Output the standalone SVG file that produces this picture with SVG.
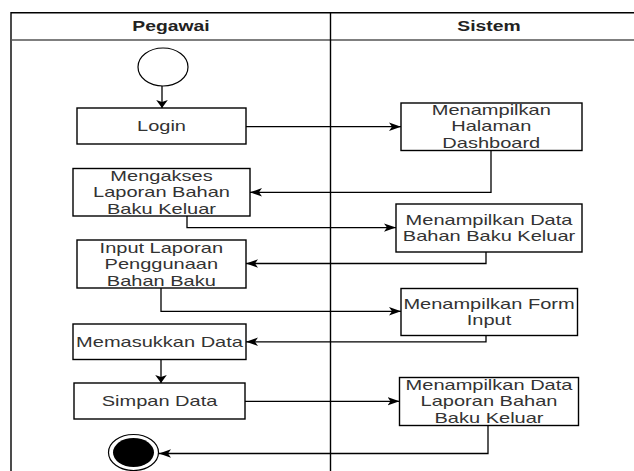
<svg xmlns="http://www.w3.org/2000/svg" width="634" height="471" viewBox="0 0 634 471">
<style>
.frame{fill:none;stroke:#000;stroke-width:1.4}
.box{fill:#fff;stroke:#000;stroke-width:1.4}
.lbl{font-family:"Liberation Sans",Arial,sans-serif;font-size:14.5px;fill:#333;text-anchor:middle}
.hdr{font-family:"Liberation Sans",Arial,sans-serif;font-size:14px;font-weight:bold;fill:#222;text-anchor:middle}
.edge{fill:none;stroke:#000;stroke-width:1.3}
.eh{marker-end:url(#ah)}
.ev{marker-end:url(#av)}
</style>
<defs>
<marker id="ah" markerUnits="userSpaceOnUse" viewBox="0 -5 12 10" refX="12" refY="0" markerWidth="12" markerHeight="10" orient="auto">
<path d="M0,-4.2 L12,0 L0,4.2 L3,0 Z" fill="#000"/>
</marker>
<marker id="av" markerUnits="userSpaceOnUse" viewBox="0 -6 8 12" refX="8" refY="0" markerWidth="8" markerHeight="12" orient="auto">
<path d="M0,-5.8 L8,0 L0,5.8 L2,0 Z" fill="#000"/>
</marker>
</defs>
<rect width="634" height="471" fill="#fff"/>
<g id="pool">
<path class="frame" d="M11,480 V12.7 H660"/>
<line x1="11" y1="40" x2="660" y2="40" stroke="#555" stroke-width="1.7"/>
<line x1="330.5" y1="12.7" x2="330.5" y2="480" stroke="#000" stroke-width="1.4"/>
<text class="hdr" transform="translate(171,30.5) scale(1.38,1)">Pegawai</text>
<text class="hdr" transform="translate(489,30.5) scale(1.38,1)">Sistem</text>
</g>
<g id="connectors">
<path class="edge ev" d="M162,86 V108"/>
<path class="edge eh" d="M246,126.7 H401"/>
<path class="edge eh" d="M491,150.5 V192.3 H250"/>
<path class="edge eh" d="M187,216 V227.6 H396"/>
<path class="edge eh" d="M486,252 V263.5 H246"/>
<path class="edge eh" d="M161,288 V311.3 H401"/>
<path class="edge eh" d="M486,335.5 V341.8 H246"/>
<path class="edge ev" d="M161,359.5 V383"/>
<path class="edge eh" d="M245,401.3 H399.5"/>
<path class="edge eh" d="M488,425.5 V453.5 H159"/>
</g>
<g id="start">
<ellipse cx="163" cy="67" rx="25" ry="19" fill="#fff" stroke="#000" stroke-width="1.2"/>
</g>
<g id="login">
<rect class="box" x="77" y="108" width="169" height="36"/>
<text class="lbl" transform="translate(161.5,131) scale(1.38,1)">Login</text>
</g>
<g id="dashboard">
<rect class="box" x="401" y="103" width="181" height="47.5"/>
<text class="lbl" transform="translate(491.3,0) scale(1.38,1)"><tspan x="0" y="115">Menampilkan</tspan><tspan x="0" y="131.5">Halaman</tspan><tspan x="0" y="148">Dashboard</tspan></text>
</g>
<g id="mengakses">
<rect class="box" x="73" y="168.5" width="177" height="47.5"/>
<text class="lbl" transform="translate(161.5,0) scale(1.38,1)"><tspan x="0" y="181">Mengakses</tspan><tspan x="0" y="197.5">Laporan Bahan</tspan><tspan x="0" y="214">Baku Keluar</tspan></text>
</g>
<g id="databahan">
<rect class="box" x="396" y="204" width="186" height="48"/>
<text class="lbl" transform="translate(489,0) scale(1.38,1)"><tspan x="0" y="225">Menampilkan Data</tspan><tspan x="0" y="241.5">Bahan Baku Keluar</tspan></text>
</g>
<g id="input">
<rect class="box" x="77" y="240" width="169" height="48"/>
<text class="lbl" transform="translate(161.3,0) scale(1.38,1)"><tspan x="0" y="252.7">Input Laporan</tspan><tspan x="0" y="269.2">Penggunaan</tspan><tspan x="0" y="285.7">Bahan Baku</tspan></text>
</g>
<g id="form">
<rect class="box" x="401" y="288.5" width="176.5" height="47"/>
<text class="lbl" transform="translate(489,0) scale(1.38,1)"><tspan x="0" y="309">Menampilkan Form</tspan><tspan x="0" y="325.5">Input</tspan></text>
</g>
<g id="memasukkan">
<rect class="box" x="73" y="324" width="173" height="35.5"/>
<text class="lbl" transform="translate(159.5,347) scale(1.38,1)">Memasukkan Data</text>
</g>
<g id="simpan">
<rect class="box" x="74" y="383" width="171" height="36"/>
<text class="lbl" transform="translate(159.5,406) scale(1.38,1)">Simpan Data</text>
</g>
<g id="laporan">
<rect class="box" x="399.5" y="377.5" width="179" height="48"/>
<text class="lbl" transform="translate(489,0) scale(1.38,1)"><tspan x="0" y="390">Menampilkan Data</tspan><tspan x="0" y="406.5">Laporan Bahan</tspan><tspan x="0" y="423">Baku Keluar</tspan></text>
</g>
<g id="end">
<ellipse cx="133.5" cy="452.5" rx="25" ry="18" fill="#fff" stroke="#000" stroke-width="1.2"/>
<ellipse cx="133.5" cy="452.5" rx="20.5" ry="14.5" fill="#000"/>
</g>
</svg>
